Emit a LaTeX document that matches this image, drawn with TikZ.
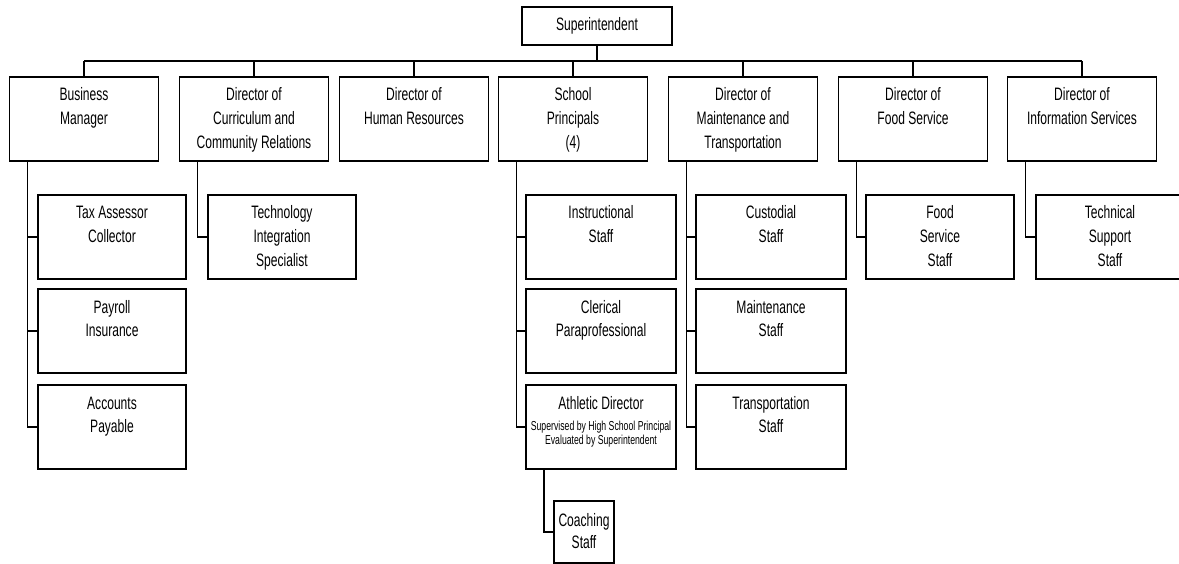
\documentclass[tikz,border=0pt]{standalone}
\usepackage{fontspec}
\setmainfont{Liberation Sans}[FakeStretch=0.67]

% box contents: fixed-size parbox, text hung from the top edge
\newcommand\toptext[3]{\parbox[c][#1][t]{#2}{\centering\rule{0pt}{24pt}#3}}

\tikzset{
  unit/.style={draw, line width=1.8pt, inner sep=0pt, outer sep=0pt},
  wire/.style={line width=1.7pt},
  drop/.style={line width=1.2pt},
}

\begin{document}
\begin{tikzpicture}[x=1pt, y=-1pt, font=\fontsize{18}{23.6}\selectfont]
  \path[fill=white, use as bounding box] (0,0) rectangle (1179,564);

  % top of the chart
  \node[unit] (sup) at (597,26) {\parbox[c][38pt][c]{150pt}{\centering Superintendent}};

  % directors
  \node[unit] (bm)   at (84,119)   {\toptext{84pt}{149pt}{Business\\Manager}};
  \node[unit] (cur)  at (254,119)  {\toptext{84pt}{149pt}{Director of\\Curriculum and\\Community Relations}};
  \node[unit] (hr)   at (414,119)  {\toptext{84pt}{149pt}{Director of\\Human Resources}};
  \node[unit] (sp)   at (573,119)  {\toptext{84pt}{149pt}{School\\Principals\\(4)}};
  \node[unit] (dmt)  at (743,119)  {\toptext{84pt}{149pt}{Director of\\Maintenance and\\Transportation}};
  \node[unit] (food) at (913,119)  {\toptext{84pt}{149pt}{Director of\\Food Service}};
  \node[unit] (info) at (1082,119) {\toptext{84pt}{149pt}{Director of\\Information Services}};

  % staff under the business manager
  \node[unit] (tax) at (112,237) {\toptext{84pt}{148pt}{Tax Assessor\\Collector}};
  \node[unit] (pay) at (112,331) {\toptext{84pt}{148pt}{Payroll\\Insurance}};
  \node[unit] (acc) at (112,427) {\toptext{84pt}{148pt}{Accounts\\Payable}};

  % curriculum
  \node[unit] (tech) at (282,237) {\toptext{84pt}{148pt}{Technology\\Integration\\Specialist}};

  % principals
  \node[unit] (ins) at (601,237) {\toptext{84pt}{150pt}{Instructional\\Staff}};
  \node[unit] (cle) at (601,331) {\toptext{84pt}{150pt}{Clerical\\Paraprofessional}};
  \node[unit] (ad)  at (601,427) {\parbox[c][84pt][t]{150pt}{\centering\rule{0pt}{24pt}Athletic Director\par
      \vspace{7.1pt}\fontsize{13}{14.3}\selectfont Supervised by High School Principal\\Evaluated by Superintendent\par}};
  \node[unit] (coach) at (584,532) {\parbox[c][62pt][t]{60pt}{\centering\fontsize{18}{21.6}\selectfont\rule{0pt}{25.7pt}Coaching\\Staff}};

  % maintenance and transportation
  \node[unit] (cus) at (771,237) {\toptext{84pt}{150pt}{Custodial\\Staff}};
  \node[unit] (mai) at (771,331) {\toptext{84pt}{150pt}{Maintenance\\Staff}};
  \node[unit] (tra) at (771,427) {\toptext{84pt}{150pt}{Transportation\\Staff}};

  % food service and information services
  \node[unit] (fss) at (940,237)  {\toptext{84pt}{148pt}{Food\\Service\\Staff}};
  \node[unit] (tss) at (1110,237) {\toptext{84pt}{148pt}{Technical\\Support\\Staff}};

  % bus line below the superintendent
  \coordinate (busL) at (84,61);
  \coordinate (busR) at (1082,61);
  \draw[wire] (busL) -- (busR);
  \draw[wire] (sup.south) -- (sup.south |- busL);
  \foreach \d in {bm,cur,hr,sp,dmt,food,info}
    \draw[drop] (\d.north) -- (\d.north |- busL);

  % trunks from each director to its staff
  \foreach \p/\c in {bm/tax, bm/pay, bm/acc, cur/tech, sp/ins, sp/cle, sp/ad,
                     dmt/cus, dmt/mai, dmt/tra, food/fss, info/tss}
    \draw[wire] ([xshift=18pt]\p.south west) |- (\c.west);
  \draw[wire] ([xshift=18pt]ad.south west) |- (coach.west);
\end{tikzpicture}
\end{document}
